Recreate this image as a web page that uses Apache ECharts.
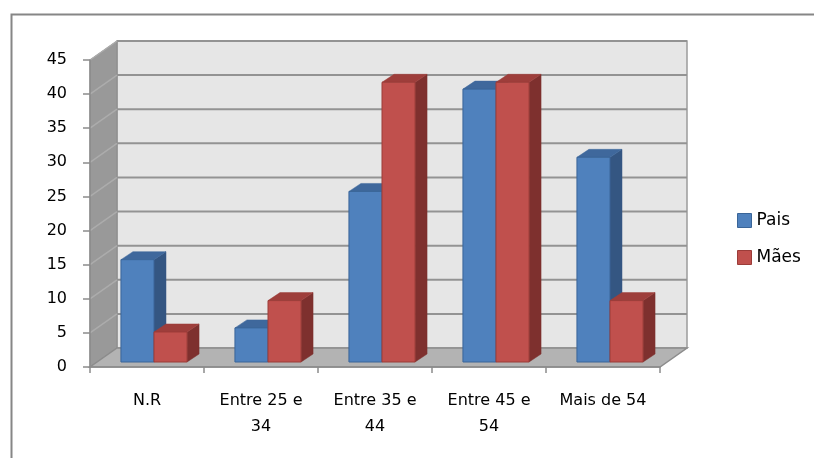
<!DOCTYPE html>
<html>
<head>
<meta charset="utf-8">
<script src="https://cdn.jsdelivr.net/npm/echarts@6/dist/echarts.min.js"></script>
<style>
  html, body { margin: 0; padding: 0; background: #ffffff; }
  #chart { width: 814px; height: 458px; }
</style>
</head>
<body>
<div id="chart"></div>
<script>
// ---- data ----
const categories = ['N.R', 'Entre 25 e 34', 'Entre 35 e 44', 'Entre 45 e 54', 'Mais de 54'];
const seriesNames = ['Pais', 'Mães'];
const pais = [15, 5, 25, 40, 30];
const maes = [4.4, 9, 41, 41, 9];
const yTicks = [0, 5, 10, 15, 20, 25, 30, 35, 40, 45];

// ---- style ----
const FONT = 'DejaVu Sans';
const DEPTH = [27, -19];       // 3D depth of the box
const BAR_FRONT = [7, -5];     // offset of bar front plane
const BAR_DEPTH = [12, -8];    // bar thickness
const yMax = yTicks[yTicks.length - 1];

const palettes = [
  { front: '#4f81bd', top: '#3f689c', side: '#345682', stroke: '#3a6598' },
  { front: '#c0504d', top: '#9e3e3b', side: '#7e302e', stroke: '#9b3c39' }
];

function renderFrame(params, api) {
  const cs = params.coordSys;
  const x0 = cs.x, x1 = cs.x + cs.width;
  const yb = api.coord([0, 0])[1];
  const yt = api.coord([0, yMax])[1];
  const dx = DEPTH[0], dy = DEPTH[1];
  const children = [];
  children.push({ type: 'rect', shape: { x: x0 + dx, y: yt + dy, width: x1 - x0, height: yb - yt },
    style: { fill: '#e6e6e6', stroke: '#9c9c9c', lineWidth: 1.5 } });
  children.push({ type: 'polygon', shape: { points: [[x0, yt], [x0 + dx, yt + dy], [x0 + dx, yb + dy], [x0, yb]] },
    style: { fill: '#999999', stroke: '#8a8a8a', lineWidth: 1 } });
  yTicks.forEach(function (t) {
    if (t === 0) return;
    const y = api.coord([0, t])[1];
    children.push({ type: 'line', shape: { x1: x0 + dx, y1: y + dy, x2: x1 + dx, y2: y + dy },
      style: { stroke: '#939393', lineWidth: 2 } });
    children.push({ type: 'line', shape: { x1: x0, y1: y, x2: x0 + dx, y2: y + dy },
      style: { stroke: '#acacac', lineWidth: 1.5 } });
  });
  children.push({ type: 'polygon', shape: { points: [[x0, yb], [x1, yb], [x1 + dx, yb + dy], [x0 + dx, yb + dy]] },
    style: { fill: '#b3b3b3', stroke: '#8c8c8c', lineWidth: 1.5 } });
  return { type: 'group', children: children };
}

function makeBarRender(sideIdx) {
  const pal = palettes[sideIdx];
  return function (params, api) {
    const cat = api.value(0), v = api.value(1);
    const p0 = api.coord([cat, 0]);
    const p1 = api.coord([cat, v]);
    const band = api.size([1, 0])[0];
    const bw = band * 0.29;
    const cx = p0[0] + BAR_FRONT[0];
    const xl = sideIdx === 0 ? cx - bw : cx;
    const xr = xl + bw;
    const yb = p0[1] + BAR_FRONT[1];
    const yt = p1[1] + BAR_FRONT[1];
    const ddx = BAR_DEPTH[0], ddy = BAR_DEPTH[1];
    return {
      type: 'group',
      children: [
        { type: 'polygon', shape: { points: [[xr, yt], [xr + ddx, yt + ddy], [xr + ddx, yb + ddy], [xr, yb]] },
          style: { fill: pal.side, stroke: pal.side, lineWidth: 0.5 } },
        { type: 'polygon', shape: { points: [[xl, yt], [xr, yt], [xr + ddx, yt + ddy], [xl + ddx, yt + ddy]] },
          style: { fill: pal.top, stroke: pal.top, lineWidth: 0.5 } },
        { type: 'rect', shape: { x: xl, y: yt, width: bw, height: yb - yt },
          style: { fill: pal.front, stroke: pal.stroke, lineWidth: 1 } }
      ]
    };
  };
}

const chart = echarts.init(document.getElementById('chart'));
chart.setOption({
  backgroundColor: '#ffffff',
  animation: false,
  graphic: [{
    type: 'rect', left: 9, top: 12, silent: true,
    shape: { x: 0, y: 0, width: 900, height: 500 },
    style: { fill: 'none', stroke: '#868686', lineWidth: 2 }, z: 100
  }],
  grid: { left: 90, right: 154, top: 60, bottom: 91, containLabel: false },
  legend: {
    orient: 'vertical', left: 737, top: 212, padding: 0, itemWidth: 14, itemHeight: 14, itemGap: 20,
    icon: 'rect',
    textStyle: { fontFamily: FONT, fontSize: 17, color: '#000' },
    data: [
      { name: 'Pais', itemStyle: { color: palettes[0].front, borderColor: palettes[0].stroke, borderWidth: 1 } },
      { name: 'Mães', itemStyle: { color: palettes[1].front, borderColor: palettes[1].stroke, borderWidth: 1 } }
    ]
  },
  xAxis: {
    type: 'category', data: categories, boundaryGap: true,
    axisLine: { show: true, lineStyle: { color: '#8c8c8c', width: 1.5 } },
    axisTick: { show: true, length: 6, interval: 0, lineStyle: { color: '#8c8c8c', width: 1.5 } },
    axisLabel: {
      interval: 0, margin: 21, fontFamily: FONT, fontSize: 16, color: '#000', lineHeight: 26,
      formatter: function (v) { return v.replace(/ e (\d+)$/, ' e\n$1'); }
    },
    splitLine: { show: false }, z: 10
  },
  yAxis: {
    type: 'value', min: 0, max: yMax, interval: 5,
    axisLine: { show: true, lineStyle: { color: '#8c8c8c', width: 1.5 } },
    axisTick: { show: true, length: 7, lineStyle: { color: '#8c8c8c', width: 1.5 } },
    axisLabel: { margin: 23, fontFamily: FONT, fontSize: 16, color: '#000' },
    splitLine: { show: false }, z: 10
  },
  series: [
    { type: 'custom', name: '__frame', silent: true, z: 1, renderItem: renderFrame, data: [[0, 0]], encode: { x: 0, y: 1 } },
    { type: 'custom', name: seriesNames[0], z: 2, itemStyle: { color: palettes[0].front },
      renderItem: makeBarRender(0), encode: { x: 0, y: 1 },
      data: pais.map(function (v, i) { return [i, v]; }) },
    { type: 'custom', name: seriesNames[1], z: 3, itemStyle: { color: palettes[1].front },
      renderItem: makeBarRender(1), encode: { x: 0, y: 1 },
      data: maes.map(function (v, i) { return [i, v]; }) }
  ]
});
</script>
</body>
</html>
